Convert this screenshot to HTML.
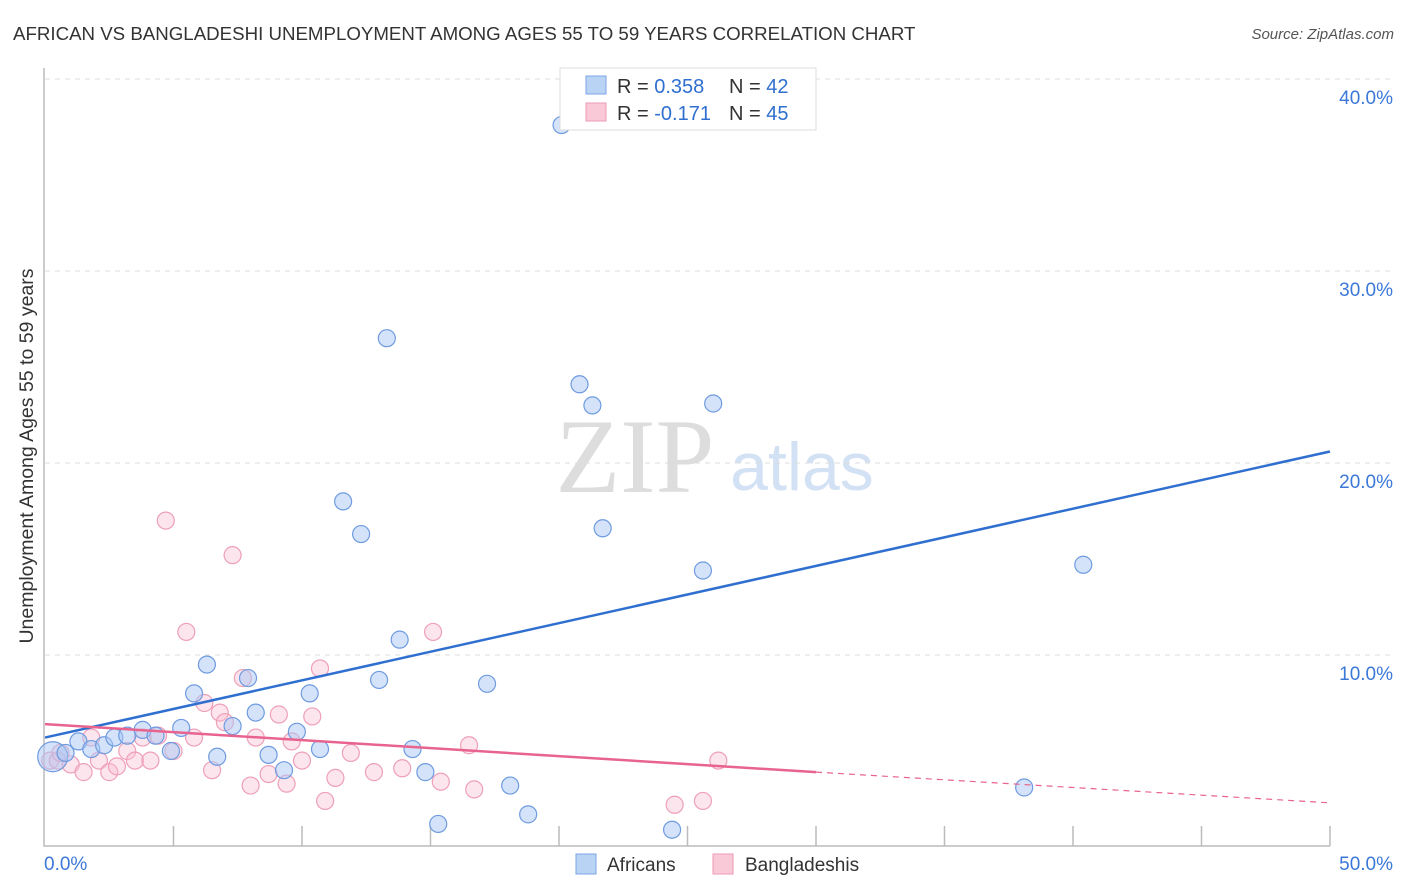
<!DOCTYPE html>
<html><head><meta charset="utf-8"><style>
body{margin:0;background:#fff;font-family:"Liberation Sans",sans-serif}
svg{display:block}
</style></head><body>
<svg id="chart" width="1406" height="892">
<text x="13" y="40" font-size="18.7" fill="#333">AFRICAN VS BANGLADESHI UNEMPLOYMENT AMONG AGES 55 TO 59 YEARS CORRELATION CHART</text>
<text x="1394" y="39" font-size="15" fill="#555" font-style="italic" text-anchor="end">Source: ZipAtlas.com</text>
<text x="33" y="456" font-size="19.5" fill="#333" text-anchor="middle" transform="rotate(-90 33 456)">Unemployment Among Ages 55 to 59 years</text>
<text x="635" y="492" font-size="106" fill="#ddd" font-family="Liberation Serif,serif" text-anchor="middle">ZIP</text>
<text x="802" y="490" font-size="68" fill="#d3e1f5" text-anchor="middle">atlas</text>
<g id="grid"></g><g id="pts"></g><g id="lines"></g>
<g>
<rect x="560" y="68" width="256" height="62" fill="#fff" stroke="#ddd"/>
<rect x="586" y="76" width="20" height="18" fill="#b9d3f5" stroke="#7aa6e6"/>
<rect x="586" y="103" width="20" height="18" fill="#f9c9d8" stroke="#ee9ab5"/>
<text x="617" y="93" font-size="20" fill="#333">R = <tspan fill="#2f6fd0">0.358</tspan></text>
<text x="729" y="93" font-size="20" fill="#333">N = <tspan fill="#2f6fd0">42</tspan></text>
<text x="617" y="120" font-size="20" fill="#333">R = <tspan fill="#2f6fd0">-0.171</tspan></text>
<text x="729" y="120" font-size="20" fill="#333">N = <tspan fill="#2f6fd0">45</tspan></text>
</g>
<g>
<rect x="576" y="854" width="20" height="20" fill="#b9d3f5" stroke="#7aa6e6"/>
<text x="607" y="871" font-size="19" fill="#333">Africans</text>
<rect x="713" y="854" width="20" height="20" fill="#f9c9d8" stroke="#ee9ab5"/>
<text x="745" y="871" font-size="19" fill="#333">Bangladeshis</text>
</g>
</svg>
<script>
const yTicks=[10,20,30,40];
const xTickLabels=["0.0%","50.0%"];
const africansX=[0.3,0.8,1.3,1.8,2.3,2.7,3.2,3.8,4.3,4.9,5.3,5.8,6.3,6.7,7.3,7.9,8.2,8.7,9.3,9.8,10.3,10.7,11.6,12.3,13.0,13.3,13.8,14.3,14.8,15.3,17.2,18.1,18.8,20.1,20.8,21.3,21.7,24.4,25.6,26.0,38.1,40.4];
const africansY=[4.7,4.9,5.5,5.1,5.3,5.7,5.8,6.1,5.8,5.0,6.2,8.0,9.5,4.7,6.3,8.8,7.0,4.8,4.0,6.0,8.0,5.1,18.0,16.3,8.7,26.5,10.8,5.1,3.9,1.2,8.5,3.2,1.7,37.6,24.1,23.0,16.6,0.9,14.4,23.1,3.1,14.7];
const bangX=[0.2,0.5,1.0,1.5,1.8,2.1,2.5,2.8,3.2,3.5,3.8,4.1,4.4,4.7,5.0,5.5,5.8,6.2,6.5,6.8,7.0,7.3,7.7,8.0,8.2,8.7,9.1,9.4,9.6,10.0,10.4,10.7,10.9,11.3,11.9,12.8,13.9,15.1,15.4,16.5,16.7,24.5,25.6,26.2,0.6];
const bangY=[4.5,4.5,4.3,3.9,5.7,4.5,3.9,4.2,5.0,4.5,5.7,4.5,5.8,17.0,5.0,11.2,5.7,7.5,4.0,7.0,6.5,15.2,8.8,3.2,5.7,3.8,6.9,3.3,5.5,4.5,6.8,9.3,2.4,3.6,4.9,3.9,4.1,11.2,3.4,5.3,3.0,2.2,2.4,4.5,4.9];
const blueFit=[5.7,20.6];
const pinkFit=[6.4,3.9,2.3];
const X0=45,X1=1330,Y0=847,PX=19.2;
const sx=v=>X0+(X1-X0)*v/50, sy=v=>Y0-PX*v;
const NS="http://www.w3.org/2000/svg";
function mk(t,a,p){const e=document.createElementNS(NS,t);for(const k in a)e.setAttribute(k,a[k]);p.appendChild(e);return e;}
const grid=document.getElementById('grid');
yTicks.forEach(t=>{
 const l=mk('line',{x1:45,x2:1392,y1:sy(t),y2:sy(t),stroke:'#ddd','stroke-dasharray':'5,5'},grid);
 
 
 const tx=mk('text',{x:1393,y:sy(t)+25,'font-size':19,fill:'#3b78d8','text-anchor':'end'},grid);
 tx.textContent=t.toFixed(1)+'%';
 
 
});
const ax=mk('path',{d:'M44 68V846H1330',stroke:'#bbb',fill:'none','stroke-width':1.5},grid);


for(let i=1;i<=10;i++){const tk=mk('line',{x1:sx(i*5),x2:sx(i*5),y1:826,y2:846,stroke:'#bbb','stroke-width':1.5},grid);
 
 }
xTickLabels.forEach((s,i)=>{const t=mk('text',{x:i?1393:44,y:870,'font-size':19,fill:'#3b78d8','text-anchor':i?'end':'start'},grid);t.textContent=s;
 
 });
const pts=document.getElementById('pts');
function draw(xs,ys,fill,stroke,name){xs.forEach((x,i)=>{
 const c=mk('circle',{cx:sx(x),cy:sy(ys[i]),r:(i===0&&name==='african-point')?15:8.5,fill:fill,stroke:stroke,'stroke-width':1.2},pts);
 
 });}
draw(bangX,bangY,'rgba(249,190,210,0.4)','#eea0b8','bangladeshi-point');
draw(africansX,africansY,'rgba(170,200,245,0.5)','#6f9be0','african-point');
const lines=document.getElementById('lines');
const bl=mk('line',{x1:sx(0),y1:sy(blueFit[0]),x2:sx(50),y2:sy(blueFit[1]),stroke:'#2f6fd0','stroke-width':2.5},lines);


const pl=mk('line',{x1:sx(0),y1:sy(pinkFit[0]),x2:sx(30),y2:sy(pinkFit[1]),stroke:'#e8648f','stroke-width':2.5},lines);


const pd=mk('line',{x1:sx(30),y1:sy(pinkFit[1]),x2:sx(50),y2:sy(pinkFit[2]),stroke:'#e8648f','stroke-width':1.2,'stroke-dasharray':'6,5'},lines);


</script>
</body></html>
